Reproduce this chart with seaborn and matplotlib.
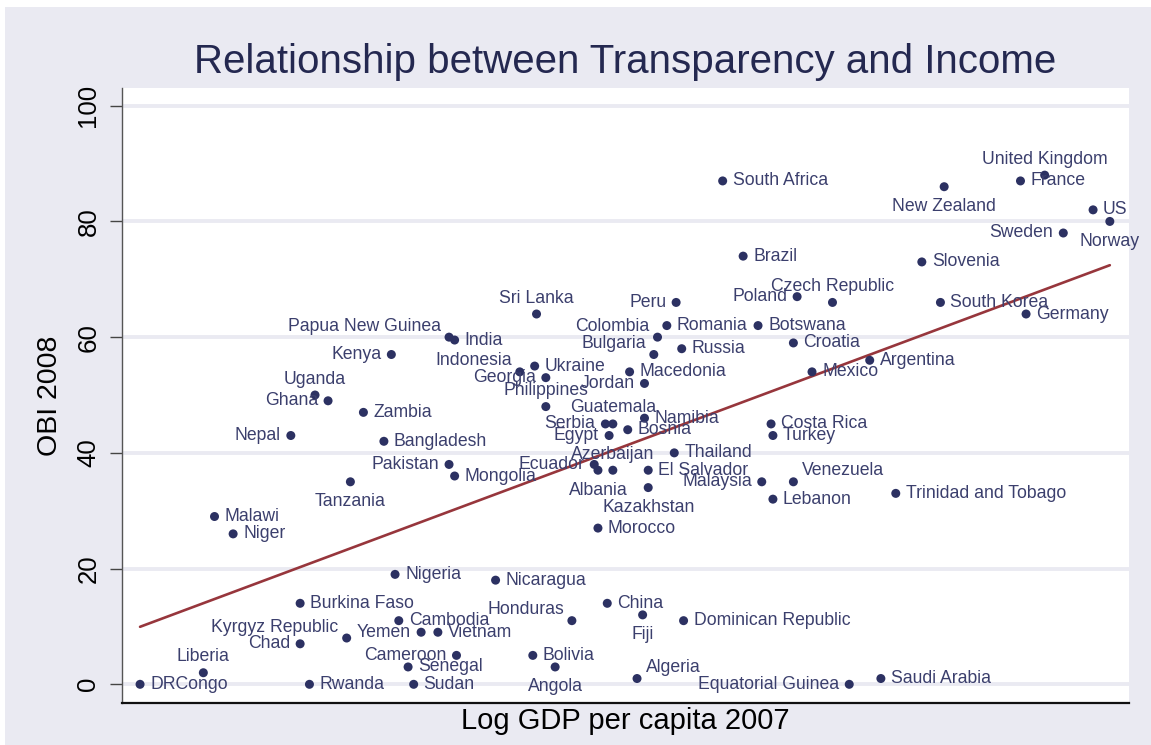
import matplotlib
matplotlib.use("Agg")
import matplotlib.pyplot as plt
import pandas as pd
import seaborn as sns
from matplotlib.patches import Rectangle

# data: country, log GDP per capita 2007, OBI 2008 score
countries = [
    "DRCongo", "Liberia", "Malawi", "Niger", "Nepal", "Uganda", "Ghana", "Zambia",
    "Kenya", "Papua New Guinea", "India", "Bangladesh", "Pakistan", "Mongolia", "Tanzania",
    "Sri Lanka", "Peru", "Poland", "Czech Republic", "South Korea", "Germany", "Romania",
    "Botswana", "Colombia", "Croatia", "Bulgaria", "Russia", "Argentina", "Indonesia",
    "Ukraine", "Macedonia", "Mexico", "Georgia", "Jordan", "Philippines", "Namibia",
    "Guatemala", "Serbia", "Costa Rica", "Bosnia", "Egypt", "Turkey", "Thailand",
    "Ecuador", "Azerbaijan", "Albania", "El Salvador", "Kazakhstan", "Malaysia",
    "Venezuela", "Lebanon", "Trinidad and Tobago", "Morocco", "Nigeria", "Nicaragua",
    "Burkina Faso", "China", "Cambodia", "Yemen", "Vietnam", "Kyrgyz Republic", "Chad",
    "Honduras", "Fiji", "Dominican Republic", "Bolivia", "Angola", "Cameroon", "Senegal",
    "Sudan", "Rwanda", "Algeria", "Equatorial Guinea", "Saudi Arabia", "South Africa",
    "New Zealand", "United Kingdom", "France", "US", "Norway", "Sweden", "Brazil", "Slovenia",
]
log_gdp = [
    5.70, 6.04, 6.10, 6.20, 6.51, 6.64, 6.71, 6.90,
    7.05, 7.36, 7.39, 7.01, 7.36, 7.39, 6.83,
    7.83, 8.58, 9.23, 9.42, 10.00, 10.46, 8.53,
    9.02, 8.48, 9.21, 8.46, 8.61, 9.62, 7.74,
    7.82, 8.33, 9.31, 7.88, 8.41, 7.88, 8.41,
    8.24, 8.20, 9.09, 8.32, 8.22, 9.10, 8.57,
    8.14, 8.24, 8.16, 8.43, 8.43, 9.04,
    9.21, 9.10, 9.76, 8.16, 7.07, 7.61,
    6.56, 8.21, 7.09, 7.21, 7.30, 6.81, 6.56,
    8.02, 8.40, 8.62, 7.81, 7.93, 7.40, 7.14,
    7.17, 6.61, 8.37, 9.51, 9.68, 8.83,
    10.02, 10.56, 10.43, 10.82, 10.91, 10.66, 8.94, 9.90,
]
obi = [
    0, 2, 29, 26, 43, 50, 49, 47,
    57, 60, 59.5, 42, 38, 36, 35,
    64, 66, 67, 66, 66, 64, 62,
    62, 60, 59, 57, 58, 56, 54,
    55, 54, 54, 53, 52, 48, 46,
    45, 45, 45, 44, 43, 43, 40,
    38, 37, 37, 37, 34, 35,
    35, 32, 33, 27, 19, 18,
    14, 14, 11, 9, 9, 8, 7,
    11, 12, 11, 5, 3, 5, 3,
    0, 0, 1, 0, 1, 87,
    86, 88, 87, 82, 80, 78, 74, 73,
]

df = pd.DataFrame({"country": countries, "loggdp": log_gdp, "obi": obi})

# label placement (clock positions like Stata's mlabposition), default 3 o'clock
label_pos = {
    "Papua New Guinea": 10, "Kenya": 9, "Nepal": 9, "Ghana": 9, "Pakistan": 9,
    "Uganda": 12, "Tanzania": 6, "Liberia": 12, "Chad": 9, "Yemen": 9,
    "Kyrgyz Republic": 10, "Cameroon": 9, "Sri Lanka": 12, "Peru": 9,
    "Colombia": 10, "Bulgaria": 10, "Indonesia": 10, "Georgia": 9, "Jordan": 9,
    "Philippines": 12, "Guatemala": 12, "Serbia": 9, "Egypt": 9, "Ecuador": 9,
    "Azerbaijan": 12, "Albania": 6, "Kazakhstan": 6, "Malaysia": 9, "Venezuela": 1,
    "Poland": 9, "Czech Republic": 12, "Honduras": 10, "Fiji": 6, "Angola": 6,
    "Algeria": 1, "Equatorial Guinea": 9, "New Zealand": 6, "United Kingdom": 12,
    "Norway": 6, "Sweden": 9,
}
offsets = {
    3: ((10, 0), "left"), 9: ((-10, 0), "right"), 10: ((-8, 11), "right"),
    12: ((0, 16), "center"), 6: ((0, -20), "center"), 1: ((9, 11), "left"),
}

sns.set_theme(style="white")
plt.rcParams["font.family"] = ["Liberation Sans", "DejaVu Sans"]

bg = "#EAEAF2"
navy = "#2c3162"
label_col = "#3b3f6d"

fig = plt.figure(figsize=(11.51, 7.45), dpi=100)
fig.patch.set_facecolor("white")
fig.patches.append(Rectangle((5 / 1151, 0), 1, 1 - 7 / 745, transform=fig.transFigure,
                             facecolor=bg, edgecolor="none", zorder=-10))
ax = fig.add_axes([122 / 1151, 42 / 745, 1007 / 1151, 615 / 745])
ax.set_facecolor("white")

sns.regplot(data=df, x="loggdp", y="obi", scatter=False, ci=None, truncate=True,
            line_kws={"color": "#97363c", "lw": 1.9, "zorder": 2}, ax=ax)
sns.scatterplot(data=df, x="loggdp", y="obi", color=navy, s=42, edgecolor="none",
                zorder=3, ax=ax)

for name, xv, yv in zip(countries, log_gdp, obi):
    (dx, dy), ha = offsets[label_pos.get(name, 3)]
    ax.annotate(name, (xv, yv), xytext=(dx, dy), textcoords="offset pixels",
                ha=ha, va="center", fontsize=12.7, color=label_col, zorder=4)

ax.set_xlim(5.603, 11.013)
ax.set_ylim(-3.23, 103.06)
ax.set_yticks([0, 20, 40, 60, 80, 100])
ax.set_xticks([])
ax.yaxis.grid(True, color=bg, lw=2.8)
ax.set_axisbelow(True)
ax.tick_params(axis="y", labelrotation=90, length=8.5, width=1, color="#444444",
               pad=7, labelsize=18.6, labelcolor="black", left=True)
for t in ax.get_yticklabels():
    t.set_va("center")

for side in ["top", "right"]:
    ax.spines[side].set_visible(False)
ax.spines["left"].set_color("#555555")
ax.spines["left"].set_linewidth(1.0)
ax.spines["bottom"].set_color("#111111")
ax.spines["bottom"].set_linewidth(1.6)

ax.set_title("Relationship between Transparency and Income", fontsize=29,
             color="#242850", pad=11)
ax.set_xlabel("Log GDP per capita 2007", fontsize=21, color="black", labelpad=3)
ax.set_ylabel("OBI 2008", fontsize=20.5, color="black", labelpad=10)

fig.savefig("out.png", dpi=100)
